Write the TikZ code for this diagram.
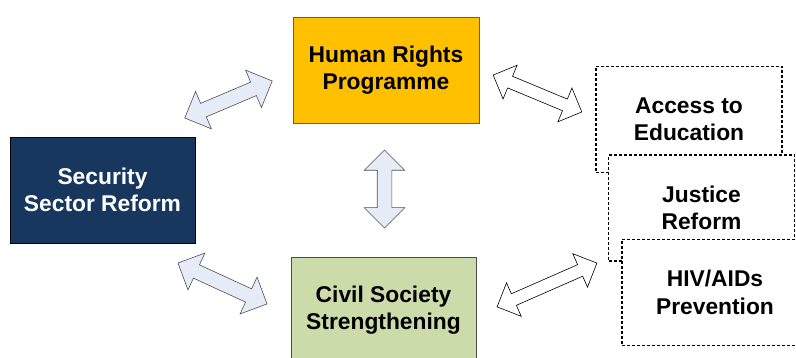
\documentclass[tikz,border=0pt]{standalone}
\usepackage{fontspec}
\setmainfont{Liberation Sans}
\usetikzlibrary{shapes.arrows}
\definecolor{hrgold}{RGB}{255,192,0}
\definecolor{ssrnavy}{RGB}{23,55,94}
\definecolor{cssgreen}{RGB}{204,219,170}
\definecolor{arrblue}{RGB}{230,236,247}
\definecolor{arrgray}{RGB}{80,80,80}

\begin{document}
\begin{tikzpicture}[x=1pt, y=1pt,
        box/.style={draw, line width=0.8pt, minimum width=186pt, minimum height=106pt,
            align=center, font=\fontsize{22.8}{27.5}\selectfont\bfseries},
        dbox/.style={box, fill=white, line width=1.5pt, dash pattern=on 3pt off 2pt},
        arr/.style={double arrow, draw=arrgray, fill=arrblue, line width=0.6pt,
            inner sep=7pt, double arrow head extend=13pt},
        warr/.style={arr, draw=black, fill=white, inner sep=6pt, double arrow head extend=12pt}]
        \useasboundingbox (0, 0) rectangle (796, 358);
        \clip (0, 0) rectangle (796, 358);
        % main boxes
        \node[box, fill=hrgold, draw=hrgold!50!black] at (386, 288) (hr) {Human Rights\\Programme};
        \node[box, fill=ssrnavy, draw=black, text=white, minimum width=185pt] at (102.5, 168) (ssr) {Security\\Sector Reform};
        \node[box, fill=cssgreen, draw=black!70, minimum width=185pt] at (383.5, 48) (css) {Civil Society\\Strengthening};
        % dashed boxes
        \node[dbox] at (689, 238.5) (edu) {Access to\\Education};
        \node[dbox] at (701.5, 150) (jus) {Justice\\Reform};
        \node[dbox] at (715, 65.5) (hiv) {HIV/AIDs\\Prevention};
        % arrows
        \node[arr, minimum height=95pt, rotate=23] at (228.5, 258.5) (ssrhr) {};
        \node[arr, minimum height=78pt, rotate=90] at (384.5, 169) (hrcss) {};
        \node[arr, minimum height=98pt, rotate=-24.7] at (222.5, 74.5) (ssrcss) {};
        \node[warr, minimum height=96pt, rotate=-22.6] at (537.5, 264.5) (hredu) {};
        \node[warr, minimum height=109pt, rotate=23.7] at (547, 73) (csshiv) {};
\end{tikzpicture}
\end{document}
